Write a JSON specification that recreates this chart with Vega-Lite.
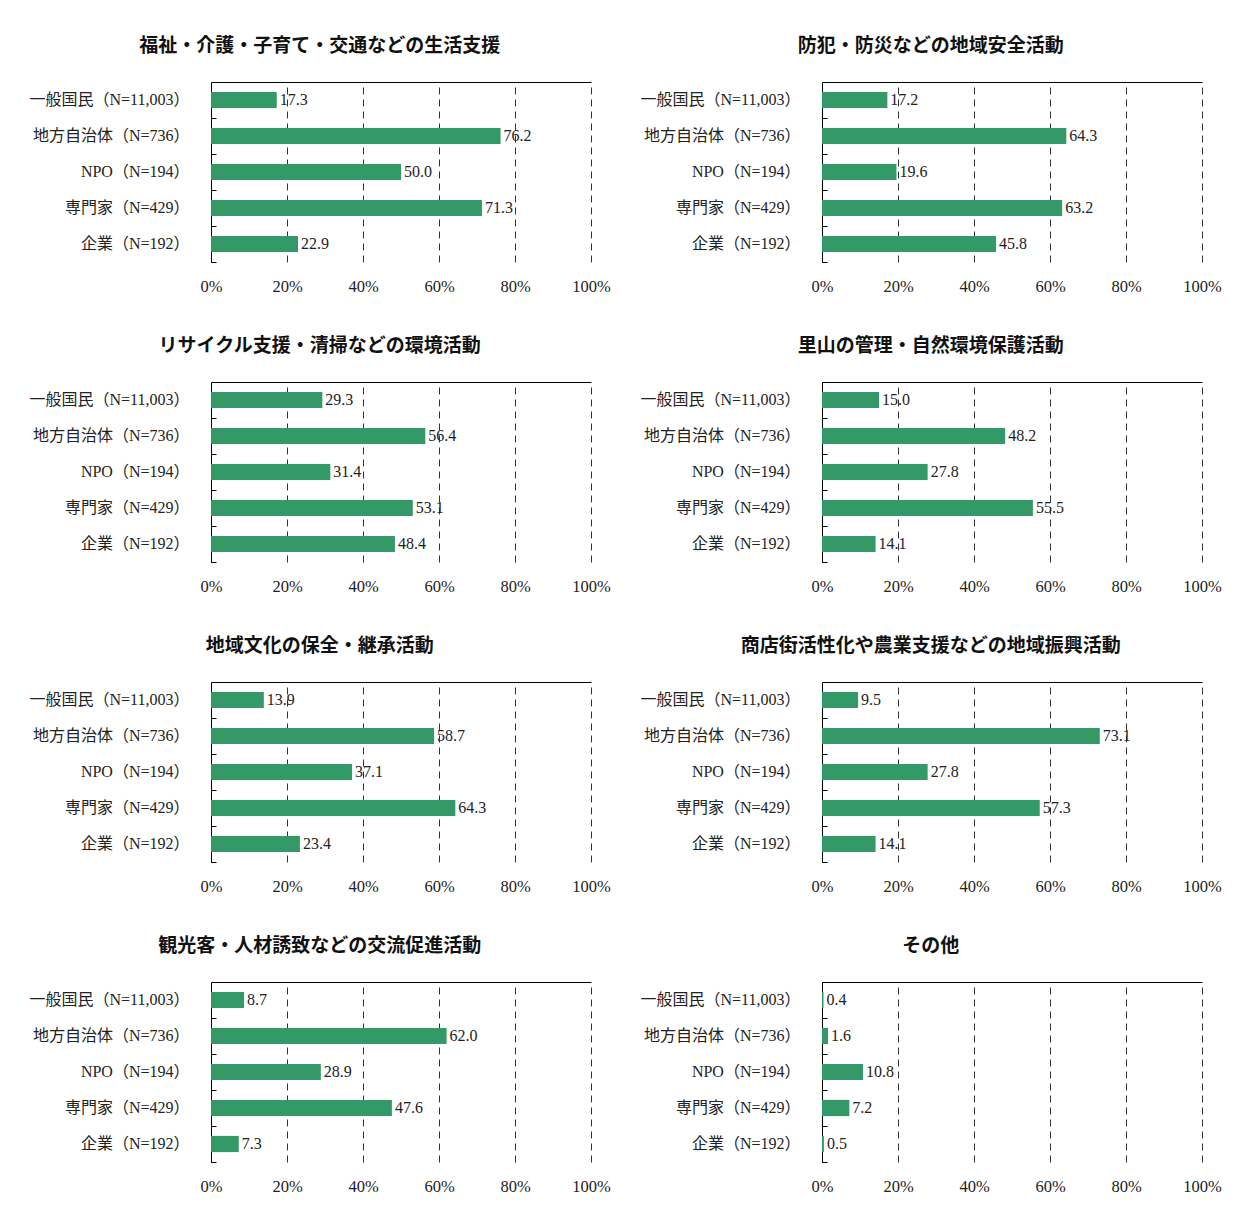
{
  "$schema": "https://vega.github.io/schema/vega-lite/v6.json",
  "padding": {"left": 29, "top": 37, "right": 0, "bottom": 0},
  "background": "white",
  "config": {
    "font": "Liberation Serif, Noto Sans CJK JP",
    "view": {"stroke": null},
    "title": {"font": "Noto Sans CJK JP", "fontSize": 19, "fontWeight": "bold", "color": "#111", "frame": "bounds", "offset": 26}
  },
  "spacing": {"row": 42, "column": 29},
  "columns": 2,
  "data": {"values": [
    {"panel": "P1", "group": "一般国民（N=11,003）", "value": 17.3},
    {"panel": "P1", "group": "地方自治体（N=736）", "value": 76.2},
    {"panel": "P1", "group": "NPO（N=194）", "value": 50.0},
    {"panel": "P1", "group": "専門家（N=429）", "value": 71.3},
    {"panel": "P1", "group": "企業（N=192）", "value": 22.9},
    {"panel": "P2", "group": "一般国民（N=11,003）", "value": 17.2},
    {"panel": "P2", "group": "地方自治体（N=736）", "value": 64.3},
    {"panel": "P2", "group": "NPO（N=194）", "value": 19.6},
    {"panel": "P2", "group": "専門家（N=429）", "value": 63.2},
    {"panel": "P2", "group": "企業（N=192）", "value": 45.8},
    {"panel": "P3", "group": "一般国民（N=11,003）", "value": 29.3},
    {"panel": "P3", "group": "地方自治体（N=736）", "value": 56.4},
    {"panel": "P3", "group": "NPO（N=194）", "value": 31.4},
    {"panel": "P3", "group": "専門家（N=429）", "value": 53.1},
    {"panel": "P3", "group": "企業（N=192）", "value": 48.4},
    {"panel": "P4", "group": "一般国民（N=11,003）", "value": 15.0},
    {"panel": "P4", "group": "地方自治体（N=736）", "value": 48.2},
    {"panel": "P4", "group": "NPO（N=194）", "value": 27.8},
    {"panel": "P4", "group": "専門家（N=429）", "value": 55.5},
    {"panel": "P4", "group": "企業（N=192）", "value": 14.1},
    {"panel": "P5", "group": "一般国民（N=11,003）", "value": 13.9},
    {"panel": "P5", "group": "地方自治体（N=736）", "value": 58.7},
    {"panel": "P5", "group": "NPO（N=194）", "value": 37.1},
    {"panel": "P5", "group": "専門家（N=429）", "value": 64.3},
    {"panel": "P5", "group": "企業（N=192）", "value": 23.4},
    {"panel": "P6", "group": "一般国民（N=11,003）", "value": 9.5},
    {"panel": "P6", "group": "地方自治体（N=736）", "value": 73.1},
    {"panel": "P6", "group": "NPO（N=194）", "value": 27.8},
    {"panel": "P6", "group": "専門家（N=429）", "value": 57.3},
    {"panel": "P6", "group": "企業（N=192）", "value": 14.1},
    {"panel": "P7", "group": "一般国民（N=11,003）", "value": 8.7},
    {"panel": "P7", "group": "地方自治体（N=736）", "value": 62.0},
    {"panel": "P7", "group": "NPO（N=194）", "value": 28.9},
    {"panel": "P7", "group": "専門家（N=429）", "value": 47.6},
    {"panel": "P7", "group": "企業（N=192）", "value": 7.3},
    {"panel": "P8", "group": "一般国民（N=11,003）", "value": 0.4},
    {"panel": "P8", "group": "地方自治体（N=736）", "value": 1.6},
    {"panel": "P8", "group": "NPO（N=194）", "value": 10.8},
    {"panel": "P8", "group": "専門家（N=429）", "value": 7.2},
    {"panel": "P8", "group": "企業（N=192）", "value": 0.5}
  ]},
  "concat": [
    {"title": "福祉・介護・子育て・交通などの生活支援", "width": 380, "height": 180, "transform": [{"filter": "datum.panel === 'P1'"}],
     "layer": [
      {"mark": {"type": "bar", "color": "#339966", "height": {"band": 0.45}},
       "encoding": {
        "x": {"field": "value", "type": "quantitative", "title": null, "scale": {"domain": [0, 100], "nice": false}, "axis": {"orient": "bottom", "values": [0, 20, 40, 60, 80, 100], "labelExpr": "datum.value + '%'", "domain": false, "ticks": false, "grid": true, "gridDash": [7, 5], "gridColor": "#333", "labelFontSize": 16.5, "labelPadding": 16, "labelColor": "#222", "labelFlush": false}},
        "y": {"field": "group", "type": "nominal", "title": null, "sort": ["一般国民（N=11,003）", "地方自治体（N=736）", "NPO（N=194）", "専門家（N=429）", "企業（N=192）"], "scale": {"paddingInner": 0, "paddingOuter": 0}, "axis": {"orient": "left", "domain": true, "domainColor": "#000", "ticks": false, "labelFontSize": 16, "labelPadding": 22, "labelColor": "#222", "grid": false}}}},
      {"mark": {"type": "text", "align": "left", "dx": 3, "fontSize": 16, "color": "#222"},
       "encoding": {
        "text": {"field": "value", "type": "quantitative", "format": ".1f"},
        "x": {"field": "value", "type": "quantitative", "title": null, "scale": {"domain": [0, 100], "nice": false}, "axis": {"orient": "top", "domain": true, "domainColor": "#000", "labels": false, "ticks": false, "grid": false}},
        "y": {"field": "group", "type": "nominal", "title": null, "sort": ["一般国民（N=11,003）", "地方自治体（N=736）", "NPO（N=194）", "専門家（N=429）", "企業（N=192）"], "axis": {"orient": "left", "labels": false, "domain": false, "ticks": true, "tickSize": 5, "offset": -5, "tickColor": "#000", "bandPosition": 1, "grid": false}}}}
     ],
     "resolve": {"axis": {"x": "independent", "y": "independent"}}},
    {"title": "防犯・防災などの地域安全活動", "width": 380, "height": 180, "transform": [{"filter": "datum.panel === 'P2'"}],
     "layer": [
      {"mark": {"type": "bar", "color": "#339966", "height": {"band": 0.45}},
       "encoding": {
        "x": {"field": "value", "type": "quantitative", "title": null, "scale": {"domain": [0, 100], "nice": false}, "axis": {"orient": "bottom", "values": [0, 20, 40, 60, 80, 100], "labelExpr": "datum.value + '%'", "domain": false, "ticks": false, "grid": true, "gridDash": [7, 5], "gridColor": "#333", "labelFontSize": 16.5, "labelPadding": 16, "labelColor": "#222", "labelFlush": false}},
        "y": {"field": "group", "type": "nominal", "title": null, "sort": ["一般国民（N=11,003）", "地方自治体（N=736）", "NPO（N=194）", "専門家（N=429）", "企業（N=192）"], "scale": {"paddingInner": 0, "paddingOuter": 0}, "axis": {"orient": "left", "domain": true, "domainColor": "#000", "ticks": false, "labelFontSize": 16, "labelPadding": 22, "labelColor": "#222", "grid": false}}}},
      {"mark": {"type": "text", "align": "left", "dx": 3, "fontSize": 16, "color": "#222"},
       "encoding": {
        "text": {"field": "value", "type": "quantitative", "format": ".1f"},
        "x": {"field": "value", "type": "quantitative", "title": null, "scale": {"domain": [0, 100], "nice": false}, "axis": {"orient": "top", "domain": true, "domainColor": "#000", "labels": false, "ticks": false, "grid": false}},
        "y": {"field": "group", "type": "nominal", "title": null, "sort": ["一般国民（N=11,003）", "地方自治体（N=736）", "NPO（N=194）", "専門家（N=429）", "企業（N=192）"], "axis": {"orient": "left", "labels": false, "domain": false, "ticks": true, "tickSize": 5, "offset": -5, "tickColor": "#000", "bandPosition": 1, "grid": false}}}}
     ],
     "resolve": {"axis": {"x": "independent", "y": "independent"}}},
    {"title": "リサイクル支援・清掃などの環境活動", "width": 380, "height": 180, "transform": [{"filter": "datum.panel === 'P3'"}],
     "layer": [
      {"mark": {"type": "bar", "color": "#339966", "height": {"band": 0.45}},
       "encoding": {
        "x": {"field": "value", "type": "quantitative", "title": null, "scale": {"domain": [0, 100], "nice": false}, "axis": {"orient": "bottom", "values": [0, 20, 40, 60, 80, 100], "labelExpr": "datum.value + '%'", "domain": false, "ticks": false, "grid": true, "gridDash": [7, 5], "gridColor": "#333", "labelFontSize": 16.5, "labelPadding": 16, "labelColor": "#222", "labelFlush": false}},
        "y": {"field": "group", "type": "nominal", "title": null, "sort": ["一般国民（N=11,003）", "地方自治体（N=736）", "NPO（N=194）", "専門家（N=429）", "企業（N=192）"], "scale": {"paddingInner": 0, "paddingOuter": 0}, "axis": {"orient": "left", "domain": true, "domainColor": "#000", "ticks": false, "labelFontSize": 16, "labelPadding": 22, "labelColor": "#222", "grid": false}}}},
      {"mark": {"type": "text", "align": "left", "dx": 3, "fontSize": 16, "color": "#222"},
       "encoding": {
        "text": {"field": "value", "type": "quantitative", "format": ".1f"},
        "x": {"field": "value", "type": "quantitative", "title": null, "scale": {"domain": [0, 100], "nice": false}, "axis": {"orient": "top", "domain": true, "domainColor": "#000", "labels": false, "ticks": false, "grid": false}},
        "y": {"field": "group", "type": "nominal", "title": null, "sort": ["一般国民（N=11,003）", "地方自治体（N=736）", "NPO（N=194）", "専門家（N=429）", "企業（N=192）"], "axis": {"orient": "left", "labels": false, "domain": false, "ticks": true, "tickSize": 5, "offset": -5, "tickColor": "#000", "bandPosition": 1, "grid": false}}}}
     ],
     "resolve": {"axis": {"x": "independent", "y": "independent"}}},
    {"title": "里山の管理・自然環境保護活動", "width": 380, "height": 180, "transform": [{"filter": "datum.panel === 'P4'"}],
     "layer": [
      {"mark": {"type": "bar", "color": "#339966", "height": {"band": 0.45}},
       "encoding": {
        "x": {"field": "value", "type": "quantitative", "title": null, "scale": {"domain": [0, 100], "nice": false}, "axis": {"orient": "bottom", "values": [0, 20, 40, 60, 80, 100], "labelExpr": "datum.value + '%'", "domain": false, "ticks": false, "grid": true, "gridDash": [7, 5], "gridColor": "#333", "labelFontSize": 16.5, "labelPadding": 16, "labelColor": "#222", "labelFlush": false}},
        "y": {"field": "group", "type": "nominal", "title": null, "sort": ["一般国民（N=11,003）", "地方自治体（N=736）", "NPO（N=194）", "専門家（N=429）", "企業（N=192）"], "scale": {"paddingInner": 0, "paddingOuter": 0}, "axis": {"orient": "left", "domain": true, "domainColor": "#000", "ticks": false, "labelFontSize": 16, "labelPadding": 22, "labelColor": "#222", "grid": false}}}},
      {"mark": {"type": "text", "align": "left", "dx": 3, "fontSize": 16, "color": "#222"},
       "encoding": {
        "text": {"field": "value", "type": "quantitative", "format": ".1f"},
        "x": {"field": "value", "type": "quantitative", "title": null, "scale": {"domain": [0, 100], "nice": false}, "axis": {"orient": "top", "domain": true, "domainColor": "#000", "labels": false, "ticks": false, "grid": false}},
        "y": {"field": "group", "type": "nominal", "title": null, "sort": ["一般国民（N=11,003）", "地方自治体（N=736）", "NPO（N=194）", "専門家（N=429）", "企業（N=192）"], "axis": {"orient": "left", "labels": false, "domain": false, "ticks": true, "tickSize": 5, "offset": -5, "tickColor": "#000", "bandPosition": 1, "grid": false}}}}
     ],
     "resolve": {"axis": {"x": "independent", "y": "independent"}}},
    {"title": "地域文化の保全・継承活動", "width": 380, "height": 180, "transform": [{"filter": "datum.panel === 'P5'"}],
     "layer": [
      {"mark": {"type": "bar", "color": "#339966", "height": {"band": 0.45}},
       "encoding": {
        "x": {"field": "value", "type": "quantitative", "title": null, "scale": {"domain": [0, 100], "nice": false}, "axis": {"orient": "bottom", "values": [0, 20, 40, 60, 80, 100], "labelExpr": "datum.value + '%'", "domain": false, "ticks": false, "grid": true, "gridDash": [7, 5], "gridColor": "#333", "labelFontSize": 16.5, "labelPadding": 16, "labelColor": "#222", "labelFlush": false}},
        "y": {"field": "group", "type": "nominal", "title": null, "sort": ["一般国民（N=11,003）", "地方自治体（N=736）", "NPO（N=194）", "専門家（N=429）", "企業（N=192）"], "scale": {"paddingInner": 0, "paddingOuter": 0}, "axis": {"orient": "left", "domain": true, "domainColor": "#000", "ticks": false, "labelFontSize": 16, "labelPadding": 22, "labelColor": "#222", "grid": false}}}},
      {"mark": {"type": "text", "align": "left", "dx": 3, "fontSize": 16, "color": "#222"},
       "encoding": {
        "text": {"field": "value", "type": "quantitative", "format": ".1f"},
        "x": {"field": "value", "type": "quantitative", "title": null, "scale": {"domain": [0, 100], "nice": false}, "axis": {"orient": "top", "domain": true, "domainColor": "#000", "labels": false, "ticks": false, "grid": false}},
        "y": {"field": "group", "type": "nominal", "title": null, "sort": ["一般国民（N=11,003）", "地方自治体（N=736）", "NPO（N=194）", "専門家（N=429）", "企業（N=192）"], "axis": {"orient": "left", "labels": false, "domain": false, "ticks": true, "tickSize": 5, "offset": -5, "tickColor": "#000", "bandPosition": 1, "grid": false}}}}
     ],
     "resolve": {"axis": {"x": "independent", "y": "independent"}}},
    {"title": "商店街活性化や農業支援などの地域振興活動", "width": 380, "height": 180, "transform": [{"filter": "datum.panel === 'P6'"}],
     "layer": [
      {"mark": {"type": "bar", "color": "#339966", "height": {"band": 0.45}},
       "encoding": {
        "x": {"field": "value", "type": "quantitative", "title": null, "scale": {"domain": [0, 100], "nice": false}, "axis": {"orient": "bottom", "values": [0, 20, 40, 60, 80, 100], "labelExpr": "datum.value + '%'", "domain": false, "ticks": false, "grid": true, "gridDash": [7, 5], "gridColor": "#333", "labelFontSize": 16.5, "labelPadding": 16, "labelColor": "#222", "labelFlush": false}},
        "y": {"field": "group", "type": "nominal", "title": null, "sort": ["一般国民（N=11,003）", "地方自治体（N=736）", "NPO（N=194）", "専門家（N=429）", "企業（N=192）"], "scale": {"paddingInner": 0, "paddingOuter": 0}, "axis": {"orient": "left", "domain": true, "domainColor": "#000", "ticks": false, "labelFontSize": 16, "labelPadding": 22, "labelColor": "#222", "grid": false}}}},
      {"mark": {"type": "text", "align": "left", "dx": 3, "fontSize": 16, "color": "#222"},
       "encoding": {
        "text": {"field": "value", "type": "quantitative", "format": ".1f"},
        "x": {"field": "value", "type": "quantitative", "title": null, "scale": {"domain": [0, 100], "nice": false}, "axis": {"orient": "top", "domain": true, "domainColor": "#000", "labels": false, "ticks": false, "grid": false}},
        "y": {"field": "group", "type": "nominal", "title": null, "sort": ["一般国民（N=11,003）", "地方自治体（N=736）", "NPO（N=194）", "専門家（N=429）", "企業（N=192）"], "axis": {"orient": "left", "labels": false, "domain": false, "ticks": true, "tickSize": 5, "offset": -5, "tickColor": "#000", "bandPosition": 1, "grid": false}}}}
     ],
     "resolve": {"axis": {"x": "independent", "y": "independent"}}},
    {"title": "観光客・人材誘致などの交流促進活動", "width": 380, "height": 180, "transform": [{"filter": "datum.panel === 'P7'"}],
     "layer": [
      {"mark": {"type": "bar", "color": "#339966", "height": {"band": 0.45}},
       "encoding": {
        "x": {"field": "value", "type": "quantitative", "title": null, "scale": {"domain": [0, 100], "nice": false}, "axis": {"orient": "bottom", "values": [0, 20, 40, 60, 80, 100], "labelExpr": "datum.value + '%'", "domain": false, "ticks": false, "grid": true, "gridDash": [7, 5], "gridColor": "#333", "labelFontSize": 16.5, "labelPadding": 16, "labelColor": "#222", "labelFlush": false}},
        "y": {"field": "group", "type": "nominal", "title": null, "sort": ["一般国民（N=11,003）", "地方自治体（N=736）", "NPO（N=194）", "専門家（N=429）", "企業（N=192）"], "scale": {"paddingInner": 0, "paddingOuter": 0}, "axis": {"orient": "left", "domain": true, "domainColor": "#000", "ticks": false, "labelFontSize": 16, "labelPadding": 22, "labelColor": "#222", "grid": false}}}},
      {"mark": {"type": "text", "align": "left", "dx": 3, "fontSize": 16, "color": "#222"},
       "encoding": {
        "text": {"field": "value", "type": "quantitative", "format": ".1f"},
        "x": {"field": "value", "type": "quantitative", "title": null, "scale": {"domain": [0, 100], "nice": false}, "axis": {"orient": "top", "domain": true, "domainColor": "#000", "labels": false, "ticks": false, "grid": false}},
        "y": {"field": "group", "type": "nominal", "title": null, "sort": ["一般国民（N=11,003）", "地方自治体（N=736）", "NPO（N=194）", "専門家（N=429）", "企業（N=192）"], "axis": {"orient": "left", "labels": false, "domain": false, "ticks": true, "tickSize": 5, "offset": -5, "tickColor": "#000", "bandPosition": 1, "grid": false}}}}
     ],
     "resolve": {"axis": {"x": "independent", "y": "independent"}}},
    {"title": "その他", "width": 380, "height": 180, "transform": [{"filter": "datum.panel === 'P8'"}],
     "layer": [
      {"mark": {"type": "bar", "color": "#339966", "height": {"band": 0.45}},
       "encoding": {
        "x": {"field": "value", "type": "quantitative", "title": null, "scale": {"domain": [0, 100], "nice": false}, "axis": {"orient": "bottom", "values": [0, 20, 40, 60, 80, 100], "labelExpr": "datum.value + '%'", "domain": false, "ticks": false, "grid": true, "gridDash": [7, 5], "gridColor": "#333", "labelFontSize": 16.5, "labelPadding": 16, "labelColor": "#222", "labelFlush": false}},
        "y": {"field": "group", "type": "nominal", "title": null, "sort": ["一般国民（N=11,003）", "地方自治体（N=736）", "NPO（N=194）", "専門家（N=429）", "企業（N=192）"], "scale": {"paddingInner": 0, "paddingOuter": 0}, "axis": {"orient": "left", "domain": true, "domainColor": "#000", "ticks": false, "labelFontSize": 16, "labelPadding": 22, "labelColor": "#222", "grid": false}}}},
      {"mark": {"type": "text", "align": "left", "dx": 3, "fontSize": 16, "color": "#222"},
       "encoding": {
        "text": {"field": "value", "type": "quantitative", "format": ".1f"},
        "x": {"field": "value", "type": "quantitative", "title": null, "scale": {"domain": [0, 100], "nice": false}, "axis": {"orient": "top", "domain": true, "domainColor": "#000", "labels": false, "ticks": false, "grid": false}},
        "y": {"field": "group", "type": "nominal", "title": null, "sort": ["一般国民（N=11,003）", "地方自治体（N=736）", "NPO（N=194）", "専門家（N=429）", "企業（N=192）"], "axis": {"orient": "left", "labels": false, "domain": false, "ticks": true, "tickSize": 5, "offset": -5, "tickColor": "#000", "bandPosition": 1, "grid": false}}}}
     ],
     "resolve": {"axis": {"x": "independent", "y": "independent"}}}
  ]
}
